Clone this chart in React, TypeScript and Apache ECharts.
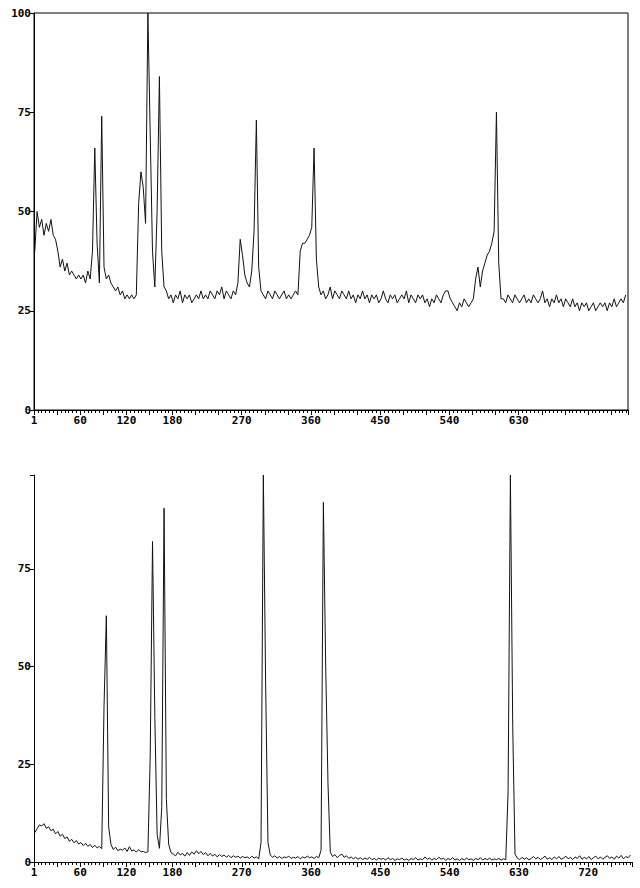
import React, { useEffect, useRef } from "react";
import * as echarts from "echarts";

// x positions: first sample at X_START, one sample every X_STEP units
const X_START = 1;
const X_STEP = 3;

// upper spectrum (relative intensity, %)
const topValues = [
  40, 50, 46, 48, 44, 47, 45, 48, 44, 43, 40, 36, 38, 35, 37, 34, 35, 34, 33, 34,
  33, 34, 32, 35, 33, 40, 66, 42, 32, 74, 36, 33, 34, 32, 31, 30, 31, 29, 30, 28,
  29, 28, 29, 28, 29, 52, 60, 56, 47, 100, 70, 40, 31, 50, 84, 40, 31, 30, 28, 29,
  27, 29, 28, 30, 27, 29, 28, 29, 27, 28, 29, 28, 30, 28, 29, 28, 30, 29, 28, 30,
  29, 31, 28, 30, 29, 28, 30, 29, 32, 43, 39, 34, 32, 31, 35, 45, 73, 36, 30, 29,
  28, 30, 29, 28, 30, 29, 28, 29, 30, 28, 29, 28, 29, 30, 29, 40, 42, 42, 43, 44,
  46, 66, 38, 31, 29, 30, 28, 29, 31, 28, 30, 29, 28, 30, 29, 28, 30, 28, 29, 27,
  29, 28, 30, 28, 29, 27, 29, 28, 29, 27, 28, 30, 28, 27, 29, 28, 29, 27, 28, 29,
  28, 30, 27, 29, 28, 27, 29, 28, 29, 27, 28, 26, 28, 27, 29, 28, 27, 29, 30, 30,
  28, 27, 26, 25, 27, 26, 28, 27, 26, 27, 28, 33, 36, 31, 35, 37, 39, 40, 42, 45,
  75, 37, 28, 28, 27, 29, 28, 27, 29, 28, 27, 28, 29, 27, 28, 27, 29, 28, 27, 28,
  30, 27, 28, 26, 28, 27, 29, 27, 28, 26, 28, 27, 26, 28, 26, 27, 25, 27, 26, 27,
  25, 26, 27, 25, 26, 27, 26, 27, 25, 27, 26, 28, 26, 27, 28, 27, 29,
];

// lower spectrum (relative intensity, %)
const bottomValues = [
  7.5, 8.5, 9.5, 9.2, 9.8, 8.6, 9.0, 8.0, 8.4, 7.2, 7.8, 6.6, 7.1, 6.0, 6.4, 5.3, 5.8, 4.9, 5.5, 4.6,
  5.0, 4.2, 4.8, 4.0, 4.5, 3.7, 4.3, 3.6, 4.0, 3.4, 40, 63, 9, 4.5, 3.2, 3.8, 2.9, 3.3, 3.0, 3.6,
  2.7, 3.9, 2.8, 3.1, 2.5, 3.2, 2.6, 2.7, 2.4, 2.6, 27, 82, 37, 7, 3.5, 14, 90.5, 16, 4.5, 2.4,
  2.0, 1.6, 2.5, 1.8, 2.2, 1.5, 2.4, 1.7, 2.6, 2.0, 2.9, 2.1, 2.7, 1.9, 2.4, 1.6, 2.2, 1.5, 2.0, 1.3,
  1.9, 1.4, 1.8, 1.2, 1.7, 1.1, 1.6, 1.2, 1.5, 1.0, 1.4, 1.1, 1.3, 0.9, 1.5, 1.0, 1.3, 0.8, 5, 99,
  45, 5, 1.8, 1.2, 1.6, 1.0, 1.4, 0.9, 1.3, 1.1, 1.5, 0.9, 1.2, 1.0, 1.4, 0.8, 1.3, 1.0, 1.5, 1.1,
  1.3, 0.9, 1.4, 1.1, 3, 92, 50, 20, 2.5, 1.4, 1.9, 1.1, 1.7, 2.0, 1.2, 1.6, 0.9, 1.3, 0.8, 1.2,
  0.7, 1.1, 0.6, 1.0, 0.7, 1.2, 0.6, 0.9, 0.5, 1.0, 0.7, 0.9, 0.5, 1.1, 0.6, 0.9, 0.4, 0.8, 0.6, 1.0,
  0.5, 0.8, 0.4, 0.9, 0.6, 1.1, 0.5, 0.8, 0.6, 1.3, 0.7, 1.0, 0.5, 0.9, 0.6, 1.2, 0.7, 1.0, 0.4, 0.9,
  0.6, 1.1, 0.5, 0.8, 0.4, 0.9, 0.5, 1.0, 0.6, 0.8, 0.4, 0.9, 0.6, 1.1, 0.5, 0.9, 0.6, 1.0, 0.5, 0.8,
  0.6, 0.9, 0.5, 0.8, 0.6, 18, 99, 35, 2, 1.0, 0.6, 1.2, 0.7, 1.1, 0.5, 0.9, 1.4, 0.8, 1.2, 0.6,
  1.0, 1.5, 0.7, 1.1, 0.6, 1.3, 0.8, 1.4, 0.7, 1.0, 1.5, 0.8, 1.2, 0.6, 1.3, 0.9, 1.6, 0.7, 1.2, 0.8,
  1.4, 0.6, 1.1, 1.5, 0.8, 1.3, 0.7, 1.2, 1.6, 0.9, 1.3, 0.7, 1.5, 1.0, 1.7, 0.8, 1.4, 1.1, 1.8,
];

// tick labels
const topXLabels = [1, 60, 120, 180, 270, 360, 450, 540, 630];
const bottomXLabels = [1, 60, 120, 180, 270, 360, 450, 540, 630, 720];
const yLabels = [0, 25, 50, 75, 100];

const toPairs = (vals: number[]) => vals.map((y, i) => [X_START + X_STEP * i, y]);

const FONT = "DejaVu Sans Mono";
const labelStyle = {
  color: "#000",
  fontFamily: FONT,
  fontSize: 11,
  fontWeight: "bold" as const,
};

function xAxisFor(gridIndex: number, max: number, labels: number[]) {
  return {
    gridIndex,
    type: "value" as const,
    min: 0,
    max,
    interval: 30,
    axisLine: { show: true, lineStyle: { color: "#000", width: 1 } },
    axisTick: { show: true, length: 5, lineStyle: { color: "#000" } },
    minorTick: { show: true, splitNumber: 6, length: 3, lineStyle: { color: "#000" } },
    splitLine: { show: false },
    axisLabel: {
      ...labelStyle,
      margin: 5,
      showMinLabel: true,
      showMaxLabel: true,
      hideOverlap: false,
      formatter: (v: number) => {
        const key = v === 0 ? 1 : v;
        return labels.includes(key) ? String(key) : "";
      },
    },
  };
}

function yAxisFor(gridIndex: number, max: number) {
  return {
    gridIndex,
    type: "value" as const,
    min: 0,
    max,
    interval: 25,
    axisLine: { show: true, lineStyle: { color: "#000", width: 1 } },
    axisTick: { show: true, length: 4, lineStyle: { color: "#000" } },
    splitLine: { show: false },
    axisLabel: {
      ...labelStyle,
      margin: 3,
      showMaxLabel: true,
      formatter: (v: number) => (yLabels.includes(v) ? String(v) : ""),
    },
  };
}

export default function App() {
  const ref = useRef<HTMLDivElement>(null);

  useEffect(() => {
    if (!ref.current) return;
    const chart = echarts.init(ref.current, null, { renderer: "svg" });
    chart.setOption({
      animation: false,
      backgroundColor: "#fff",
      grid: [
        {
          left: 34,
          top: 13,
          width: 594,
          height: 397,
          show: true,
          borderColor: "#000",
          borderWidth: 1,
          backgroundColor: "transparent",
        },
        { left: 34, top: 475, width: 598, height: 387 },
      ],
      xAxis: [xAxisFor(0, 772, topXLabels), xAxisFor(1, 777, bottomXLabels)],
      yAxis: [yAxisFor(0, 100), yAxisFor(1, 99)],
      series: [
        {
          type: "line",
          xAxisIndex: 0,
          yAxisIndex: 0,
          data: toPairs(topValues),
          showSymbol: false,
          symbol: "none",
          lineStyle: { color: "#111", width: 1 },
          silent: true,
        },
        {
          type: "line",
          xAxisIndex: 1,
          yAxisIndex: 1,
          data: toPairs(bottomValues),
          showSymbol: false,
          symbol: "none",
          lineStyle: { color: "#111", width: 1 },
          silent: true,
        },
      ],
    });
    return () => chart.dispose();
  }, []);

  return (
    <div
      ref={ref}
      style={{ position: "fixed", left: 0, top: 0, width: 640, height: 888 }}
    />
  );
}
